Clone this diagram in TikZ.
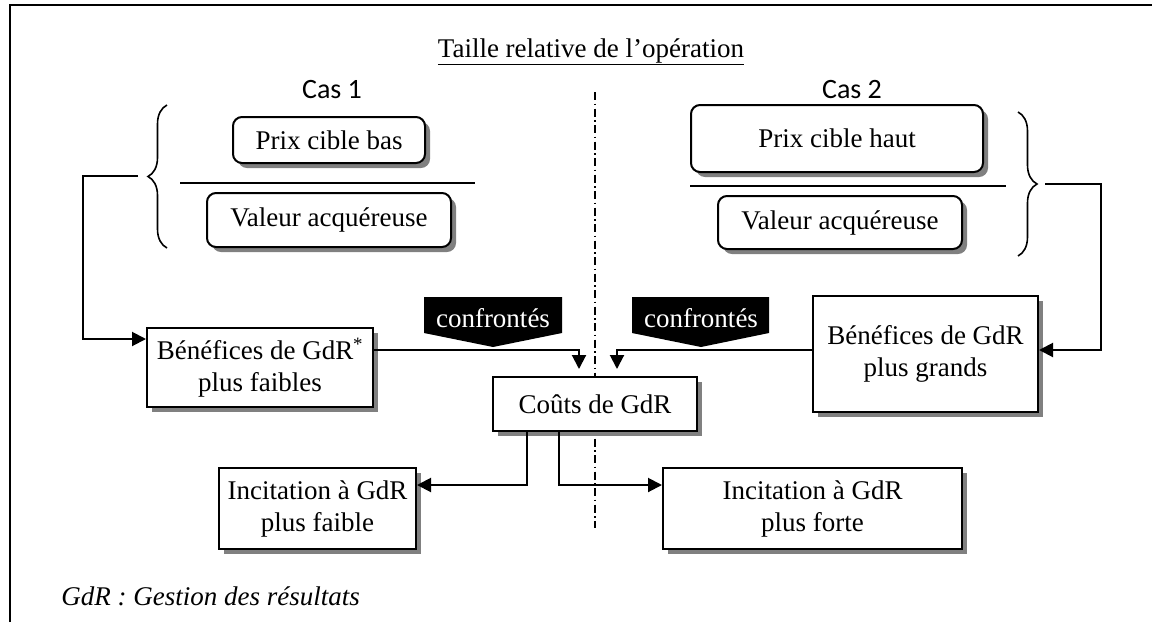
\documentclass[tikz,border=0pt]{standalone}
\usepackage{fontspec}
\setmainfont{Liberation Serif}
\newfontfamily\casfont{Carlito}
\usetikzlibrary{arrows.meta,shadows,decorations.pathreplacing}
\begin{document}
\begin{tikzpicture}[x=1pt,y=-1pt, line width=2pt,
  every node/.style={font=\fontsize{27}{32}\selectfont},
  box/.style={draw, fill=white, inner sep=0pt, align=center,
    drop shadow={shadow xshift=5pt, shadow yshift=-5pt, fill=black!50, opacity=1}},
  rbox/.style={box, rounded corners=9pt},
  arr/.style={-{Triangle[length=14pt,width=14pt]}},
  casstyle/.style={font=\casfont\fontsize{28}{30}\selectfont},
  bracestyle/.style={decorate, decoration={brace, amplitude=19pt}, line width=1.6pt},
  banner/.style={fill=black},
  axisline/.style={line width=1.3pt, dash pattern=on 8pt off 3.5pt on 1.5pt off 3.5pt}
]
\useasboundingbox (0,0) rectangle (1152,622);

% frame
\draw (10,622) -- (10,5) -- (1152,5);

% dash-dotted separator
\draw[axisline] (595,92) -- (595,528);

% title and cases
\node (title) at (591,52) {\underline{Taille relative de l’opération}};
\node[casstyle] (cas1) at (332,90) {Cas 1};
\node[casstyle] (cas2) at (852,90) {Cas 2};

% case 1 fraction
\node[rbox, minimum width=192pt, minimum height=46pt] (pb) at (329,140) {Prix cible bas};
\draw (180,183) -- (475,183);
\node[rbox, minimum width=244pt, minimum height=54pt] (va1) at (329,220) {Valeur acquéreuse};
\draw[bracestyle] (167,248) -- (167,105);
\coordinate (b1) at (138,176);

% case 2 fraction
\node[rbox, minimum width=292pt, minimum height=67pt] (ph) at (837,138.5) {Prix cible haut};
\draw (690,186) -- (1006,186);
\node[rbox, minimum width=244pt, minimum height=53pt] (va2) at (840,222.5) {Valeur acquéreuse};
\draw[bracestyle] (1018,112) -- (1018,256);
\coordinate (b2) at (1045,184);

% benefits
\node[box, minimum width=226pt, minimum height=79pt] (bf) at (260,367.5) {Bénéfices de GdR\textsuperscript{*}\\plus faibles};
\node[box, minimum width=225pt, minimum height=116pt] (bg) at (925.5,354) {Bénéfices de GdR\\plus grands};

% costs
\node[box, minimum width=204pt, minimum height=54pt] (c) at (595,404) {Coûts de GdR};
\coordinate (cin1) at ([shift={(-16,-7)}]c.north);
\coordinate (cin2) at ([shift={(22,-7)}]c.north);

% incentives
\node[box, minimum width=197pt, minimum height=81pt] (ifa) at (317.5,508.5) {Incitation à GdR\\plus faible};
\node[box, minimum width=299pt, minimum height=81pt] (ifo) at (812.5,508.5) {Incitation à GdR\\plus forte};

% banners
\fill[banner] (424,297) -- (562,297) -- (562,333) -- (493,347) -- (424,333) -- cycle;
\node[text=white] (cf1) at (493,318) {confrontés};
\fill[banner] (632,297) -- (769,297) -- (769,333) -- (701,347) -- (632,333) -- cycle;
\node[text=white] (cf2) at (701,318) {confrontés};

% connectors
\draw[arr] (b1) -| (83,339) -- (bf.west |- 0,339);
\draw[arr] (b2) -| (1101,350) -- (bg.east |- 0,350);
\draw[arr] (bf.east |- 0,350) -| (cin1);
\draw[arr] (bg.west |- 0,350) -| (cin2);
\draw[arr] (c.south -| 527,0) |- (ifa.east |- 0,485);
\draw[arr] (c.south -| 559,0) |- (ifo.west |- 0,485);

% footnote
\node[font=\itshape\fontsize{27}{32}\selectfont, anchor=west] (foot) at (57,596) {GdR : Gestion des résultats};
\end{tikzpicture}
\end{document}
